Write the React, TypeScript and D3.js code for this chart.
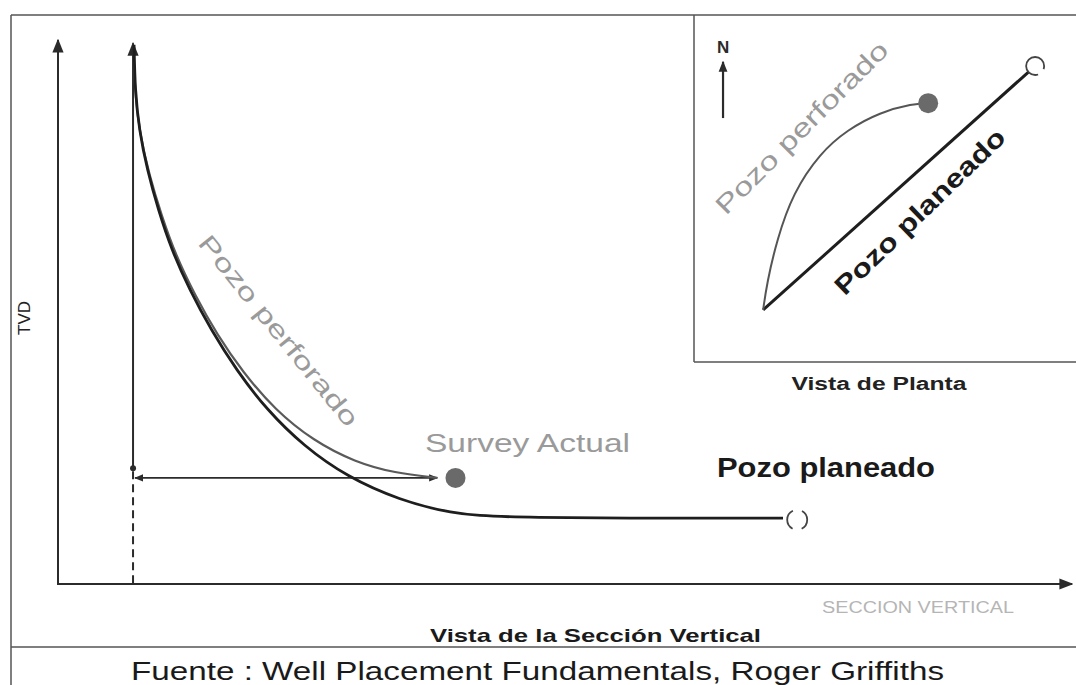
import * as d3 from 'd3';

// vertical section view: horizontal section (0-100) vs TVD (0-100, down)
const plannedSecX = [7.5, 7.6, 8.0, 8.8, 9.9, 11.2, 13.0, 15.1, 17.6, 20.6, 24.2, 28.5, 33.7, 38.7, 43.6, 71.5];
const plannedTvd = [0.9, 9.2, 16.5, 23.9, 31.3, 38.6, 46.0, 53.3, 60.7, 68.0, 74.6, 80.3, 84.6, 87.0, 87.9, 87.9];
const drilledSecX = [7.5, 7.6, 8.1, 9.0, 10.2, 11.6, 13.5, 15.7, 18.2, 21.4, 25.2, 29.3, 33.2, 37.4];
const drilledTvd = [3.7, 10.1, 17.5, 24.8, 32.2, 39.5, 46.9, 54.2, 61.0, 68.0, 73.7, 77.6, 79.6, 80.5];
const wellSecX = 7.4;
const wellTopTvd = 0.6;
const kickTvd = 78.7;
const surveyPoint = [39.2, 80.5];
const plannedTarget = [72.9, 88.2];

// plan view: east (0-100) vs north (0-100)
const planStart = [18.1, 15.0];
const planTarget = [89.3, 85.3];
const drilledEast = [18.1, 19.1, 21.7, 25.9, 33.0, 40.1, 48.7, 57.3, 61.3];
const drilledNorth = [15.0, 22.8, 35.2, 48.7, 60.2, 66.9, 72.0, 74.4, 74.6];
const planSurvey = [61.3, 74.6];
const northArrow = [7.6, 70.3, 86.5];

const labels = {
  tvd: 'TVD',
  drilled: 'Pozo perforado',
  planned: 'Pozo planeado',
  survey: 'Survey Actual',
  section: 'SECCION VERTICAL',
  sectionTitle: 'Vista de la Sección Vertical',
  planTitle: 'Vista de Planta',
  source: 'Fuente : Well Placement Fundamentals, Roger Griffiths',
};

const W = 1076;
const H = 685;
const font = '"Liberation Sans", Arial, sans-serif';

export default function App() {
  const x = d3.scaleLinear().domain([0, 100]).range([58, 1072]);
  const y = d3.scaleLinear().domain([0, 100]).range([40, 584]);
  const e = d3.scaleLinear().domain([0, 100]).range([694, 1076]);
  const n = d3.scaleLinear().domain([0, 100]).range([362, 15]);

  const planned = plannedSecX.map((v, i) => [x(v), y(plannedTvd[i])] as [number, number]);
  const drilled = drilledSecX.map((v, i) => [x(v), y(drilledTvd[i])] as [number, number]);
  const arc = drilledEast.map((v, i) => [e(v), n(drilledNorth[i])] as [number, number]);
  const smooth = d3.line().curve(d3.curveBasis);

  const dark = '#2b2b2b';
  const grayText = '#9a9a9a';

  return (
    <svg width={W} height={H} style={{ position: 'absolute', left: 0, top: 0, background: '#fff' }}>
      <defs>
        <marker id="ah" viewBox="0 0 10 10" refX="9" refY="5" markerWidth="7" markerHeight="7" orient="auto-start-reverse">
          <path d="M0,1 L10,5 L0,9 z" fill={dark} />
        </marker>
        <marker id="ahs" viewBox="0 0 10 10" refX="9" refY="5" markerWidth="5" markerHeight="5" orient="auto-start-reverse">
          <path d="M0,1 L10,5 L0,9 z" fill={dark} />
        </marker>
      </defs>
      <rect width={W} height={H} fill="#fff" />

      {/* frame */}
      <g stroke="#555" strokeWidth={1.5} fill="none">
        <line x1={11} y1={15} x2={W} y2={15} />
        <line x1={11} y1={15} x2={11} y2={H} />
        <line x1={11} y1={647} x2={W} y2={647} />
        <line x1={e(0)} y1={n(100)} x2={e(0)} y2={n(0)} />
        <line x1={e(0)} y1={n(0)} x2={e(100)} y2={n(0)} />
      </g>

      {/* section axes */}
      <g stroke={dark} strokeWidth={2} fill="none">
        <line x1={x(0)} y1={y(100)} x2={x(0)} y2={y(0)} markerEnd="url(#ah)" />
        <line x1={x(0) - 1} y1={y(100)} x2={x(100)} y2={y(100)} markerEnd="url(#ah)" />
        <line x1={x(wellSecX)} y1={y(kickTvd)} x2={x(wellSecX)} y2={y(wellTopTvd)} markerEnd="url(#ah)" />
        <line x1={x(wellSecX)} y1={y(kickTvd) + 3} x2={x(wellSecX)} y2={y(100)} strokeDasharray="8 5" />
        <line x1={x(wellSecX) + 2} y1={y(surveyPoint[1])} x2={x(drilledSecX[drilledSecX.length - 1])} y2={y(surveyPoint[1])}
          strokeWidth={1.8} markerStart="url(#ahs)" markerEnd="url(#ahs)" />
      </g>
      <circle cx={x(wellSecX)} cy={y(kickTvd)} r={3} fill={dark} />

      {/* wells in section */}
      <path d={smooth(drilled) ?? ''} fill="none" stroke="#5a5a5a" strokeWidth={2.2} />
      <path d={smooth(planned) ?? ''} fill="none" stroke="#1e1e1e" strokeWidth={2.8} />
      <circle cx={x(surveyPoint[0])} cy={y(surveyPoint[1])} r={10} fill="#6a6a6a" />
      <circle cx={x(plannedTarget[0])} cy={y(plannedTarget[1])} r={10} fill="#fff" stroke="#444" strokeWidth={1.8} strokeDasharray="22 9.4" strokeDashoffset={11} />

      {/* plan view */}
      <line x1={e(planStart[0])} y1={n(planStart[1])} x2={e(planTarget[0])} y2={n(planTarget[1])} stroke="#1e1e1e" strokeWidth={3} />
      <circle cx={e(planTarget[0])} cy={n(planTarget[1])} r={9} fill="#fff" stroke="#444" strokeWidth={1.8} strokeDasharray="48.7 7.8" strokeDashoffset={-11} />
      <path d={smooth(arc) ?? ''} fill="none" stroke="#555" strokeWidth={2} />
      <circle cx={e(planSurvey[0])} cy={n(planSurvey[1])} r={10} fill="#6a6a6a" />
      <line x1={e(northArrow[0])} y1={n(northArrow[1])} x2={e(northArrow[0])} y2={n(northArrow[2])} stroke={dark} strokeWidth={2.2} markerEnd="url(#ahs)" />

      {/* text */}
      <g fontFamily={font}>
        <text x={e(northArrow[0])} y={53} textAnchor="middle" fontSize={17} fontWeight="bold" fill={dark}>N</text>
        <text transform="translate(808,134) rotate(-45)" textAnchor="middle" fontSize={26} fill={grayText}
          textLength={232} lengthAdjust="spacingAndGlyphs">{labels.drilled}</text>
        <text transform="translate(926,218) rotate(-44)" textAnchor="middle" fontSize={26} fontWeight="bold" fill="#1a1a1a"
          textLength={226} lengthAdjust="spacingAndGlyphs">{labels.planned}</text>
        <text x={879} y={390} textAnchor="middle" fontSize={18} fontWeight="bold" fill="#222"
          textLength={175} lengthAdjust="spacingAndGlyphs">{labels.planTitle}</text>

        <text transform="translate(272,336) rotate(51)" textAnchor="middle" fontSize={25} fill={grayText}
          textLength={238} lengthAdjust="spacingAndGlyphs">{labels.drilled}</text>
        <text x={425} y={452} fontSize={25} fill={grayText} textLength={205} lengthAdjust="spacingAndGlyphs">{labels.survey}</text>
        <text x={717} y={477} fontSize={27} fontWeight="bold" fill="#1a1a1a" textLength={218} lengthAdjust="spacingAndGlyphs">{labels.planned}</text>

        <text transform="translate(30,318) rotate(-90)" textAnchor="middle" fontSize={17} fill="#222">{labels.tvd}</text>
        <text x={822} y={613} fontSize={16} fill="#b5b5b5" textLength={192} lengthAdjust="spacingAndGlyphs">{labels.section}</text>
        <text x={430} y={642} fontSize={19} fontWeight="bold" fill="#1a1a1a" textLength={331} lengthAdjust="spacingAndGlyphs">{labels.sectionTitle}</text>
        <text x={131} y={680} fontSize={26} fill="#1a1a1a" textLength={813} lengthAdjust="spacingAndGlyphs">{labels.source}</text>
      </g>
    </svg>
  );
}
